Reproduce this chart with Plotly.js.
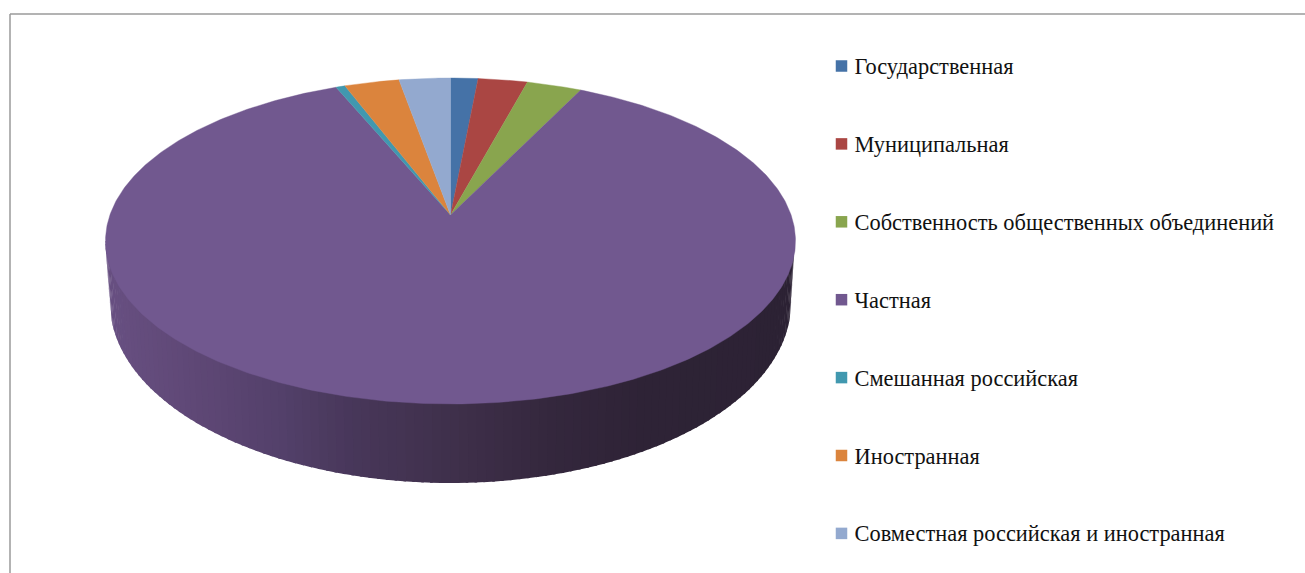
<!DOCTYPE html>
<html>
<head>
<meta charset="utf-8">
<script src="https://cdn.plot.ly/plotly-3.0.1.min.js"></script>
<style>html,body{margin:0;padding:0;background:#fff;overflow:hidden}#chart{width:1305px;height:573px}</style>
</head>
<body>
<div id="chart"></div>
<script>
var categories = ["Государственная","Муниципальная","Собственность общественных объединений","Частная","Смешанная российская","Иностранная","Совместная российская и иностранная"];
var shares = [1.5,2.7,3.0,86.5,0.5,3.0,2.8];
var colors = ["#4572A7","#AA4643","#89A54E","#71588F","#4198AF","#DB843D","#93A9CF"];

// Wall shade along the horizontal position: [x, r, g, b]
var wallShades = [[105,104,80,130],[200,94,71,117],[280,83,64,106],[350,72,55,90],[450,63,48,75],[550,52,39,61],[640,46,35,54],[795,44,34,52]];

// Projection of the flat pie onto the screen
var cx = 450.5, apexY = 215, D = 340.6, A = 158.85, C = 0.1595;
function topPoint(theta){
  var u = Math.sin(theta), v = Math.cos(theta), w = 1 + C*v;
  return [cx + D*u/w, apexY - A*v/w];
}
function shadeAt(x){
  for(var i=0;i<wallShades.length-1;i++){
    var a=wallShades[i], b=wallShades[i+1];
    if(x<=b[0]){
      var t=Math.max(0,(x-a[0])/(b[0]-a[0]));
      return "rgb("+[1,2,3].map(function(k){return Math.round(a[k]+(b[k]-a[k])*t);}).join(",")+")";
    }
  }
  return "rgb(44,34,52)";
}

var traces = [];

// Side wall (front half); each strip reaches a little under the top face so no pale seam shows at the rim
var N = 120;
function rim(phi){return [450+344.6*Math.cos(phi), 241+162.6*Math.sin(phi)];}
function inner(phi){return [450+340*Math.cos(phi), 241+158*Math.sin(phi)];}
function lower(phi){return [450.5+340.5*Math.cos(phi), 303+180*Math.sin(phi)];}
for(var s=0;s<N;s++){
  var p0=Math.PI*s/N, p1=Math.min(Math.PI,Math.PI*(s+1.3)/N);
  var a=rim(p0), b=rim(p1), c=lower(p1), d=lower(p0), e=inner(p0), f=inner(p1);
  var col=shadeAt((a[0]+c[0])/2);
  traces.push({type:"scatter",mode:"lines",
    x:[e[0],f[0],b[0],c[0],d[0],a[0],e[0]],y:[e[1],f[1],b[1],c[1],d[1],a[1],e[1]],
    fill:"toself",fillcolor:col,line:{width:0,color:col},hoverinfo:"skip",showlegend:false});
}

// Top face slices
var total = shares.reduce(function(p,q){return p+q;},0), cum = 0;
shares.forEach(function(val,i){
  var t0=cum/total*2*Math.PI; cum+=val; var t1=cum/total*2*Math.PI;
  var steps=Math.max(4,Math.ceil(val*6)), xs=[cx], ys=[apexY];
  for(var k=0;k<=steps;k++){
    var p=topPoint(t0+(t1-t0)*k/steps); xs.push(p[0]); ys.push(p[1]);
  }
  xs.push(cx); ys.push(apexY);
  traces.push({type:"scatter",mode:"lines",x:xs,y:ys,fill:"toself",fillcolor:colors[i],
    line:{width:0.4,color:colors[i]},name:categories[i],text:val+"%",hoverinfo:"name+text",showlegend:false});
});

// Legend column
var legendY = categories.map(function(_,i){return 66+77.9*i;});
traces.push({type:"scatter",mode:"markers",x:categories.map(function(){return 841.5;}),y:legendY,
  marker:{symbol:"square",size:11.5,color:colors,line:{width:0}},hoverinfo:"skip",showlegend:false});
traces.push({type:"scatter",mode:"text",x:categories.map(function(){return 854.5;}),y:legendY.map(function(v){return v+2.5;}),
  text:categories,textposition:"middle right",textfont:{family:"Liberation Serif",size:22.4,color:"#111"},hoverinfo:"skip",showlegend:false});

var layout = {
  width:1305,height:573,margin:{l:0,r:0,t:0,b:0},paper_bgcolor:"#fff",plot_bgcolor:"#fff",showlegend:false,
  xaxis:{range:[0,1305],visible:false,fixedrange:true},
  yaxis:{range:[573,0],visible:false,fixedrange:true},
  shapes:[
    {type:"line",xref:"paper",yref:"paper",x0:10/1305,x1:1,y0:1-14/573,y1:1-14/573,line:{color:"#9a9a9a",width:1.5}},
    {type:"line",xref:"paper",yref:"paper",x0:10/1305,x1:10/1305,y0:0,y1:1-14/573,line:{color:"#9a9a9a",width:1.5}}
  ]
};
Plotly.newPlot("chart",traces,layout,{displayModeBar:false,responsive:false});
</script>
</body>
</html>
